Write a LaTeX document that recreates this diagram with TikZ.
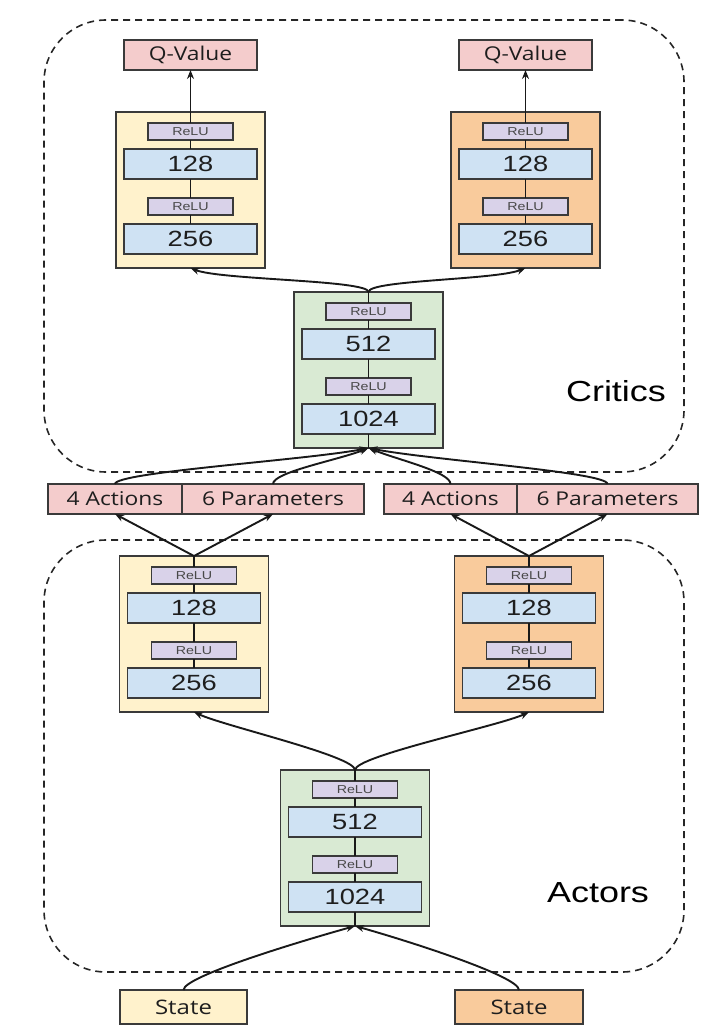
\documentclass[tikz,border=0pt]{standalone}
\usepackage{fontspec}
\setmainfont{Liberation Sans}[FakeStretch=1.24]
\newfontfamily\boxfont{Open Sans}[FakeStretch=1.2]
\usepackage{tikz}
\usetikzlibrary{positioning, arrows.meta}

\definecolor{pinkc}{HTML}{F4CCCC}
\definecolor{yellowc}{HTML}{FFF2CC}
\definecolor{orangec}{HTML}{F9CB9C}
\definecolor{greenc}{HTML}{D9EAD3}
\definecolor{bluec}{HTML}{CFE2F3}
\definecolor{purplec}{HTML}{D9D2E9}
\definecolor{edgec}{HTML}{3A3A3A}
\definecolor{textc}{HTML}{1E1E1E}
\definecolor{reluc}{HTML}{484848}

\begin{document}
\begin{tikzpicture}[x=1pt, y=-1pt,
    block/.style={draw=edgec, line width=1.7pt, minimum width=149pt, minimum height=156pt, inner sep=0pt, outer sep=0pt},
    layer/.style={draw=edgec, fill=bluec, line width=1.7pt, minimum width=133pt, minimum height=30pt, inner sep=0pt, outer sep=0pt, text=textc, font=\fontsize{22}{22}\selectfont},
    relu/.style={draw=edgec, fill=purplec, line width=1.5pt, minimum width=85pt, minimum height=17pt, inner sep=0pt, outer sep=0pt, text=reluc, font=\fontsize{11.5}{11.5}\selectfont},
    io/.style={draw=edgec, line width=1.7pt, minimum height=30pt, inner sep=0pt, outer sep=0pt, text=textc, font=\boxfont\fontsize{19}{19}\selectfont},
    frame/.style={draw=black!85, line width=1.6pt, dash pattern=on 7pt off 5pt, rounded corners=62pt, inner sep=0pt},
    group/.style={text=black, font=\fontsize{29}{29}\selectfont},
    link/.style={line width=1.9pt, draw=black!90},
    >={Stealth[length=9pt,width=7pt]}]

\useasboundingbox (0,0) rectangle (715,1025);

% Rahmen
\node[frame, minimum width=640pt, minimum height=452pt] (critics) at (364,246) {};
\node[frame, minimum width=640pt, minimum height=432pt] (actors) at (364,756) {};
\node[group] (critlabel) at (616,391) {Critics};
\node[group] (actlabel) at (598,893) {Actors};

% Q-Werte
\node[io, fill=pinkc, minimum width=133pt] (q1) at (190.5,55) {Q-Value};
\node[io, fill=pinkc, minimum width=133pt] (q2) at (525.5,55) {Q-Value};

% Kritiker, linker Kopf
\node[block, fill=yellowc] (c1) at (190.5,190) {};
\node[relu, below=11pt of c1.north] (c1-r1) {ReLU};
\node[layer, below=9pt of c1-r1] (c1-l1) {128};
\node[relu, below=19pt of c1-l1] (c1-r2) {ReLU};
\node[layer, below=9pt of c1-r2] (c1-l2) {256};

% Kritiker, rechter Kopf
\node[block, fill=orangec] (c2) at (525.5,190) {};
\node[relu, below=11pt of c2.north] (c2-r1) {ReLU};
\node[layer, below=9pt of c2-r1] (c2-l1) {128};
\node[relu, below=19pt of c2-l1] (c2-r2) {ReLU};
\node[layer, below=9pt of c2-r2] (c2-l2) {256};

% Kritiker, gemeinsamer Teil
\node[block, fill=greenc] (cb) at (368.5,370) {};
\node[relu, below=11pt of cb.north] (cb-r1) {ReLU};
\node[layer, below=9pt of cb-r1] (cb-l1) {512};
\node[relu, below=19pt of cb-l1] (cb-r2) {ReLU};
\node[layer, below=9pt of cb-r2] (cb-l2) {1024};

% Aktionen
\node[io, fill=pinkc, minimum width=134pt] (act1) at (115,499) {4 Actions};
\node[io, fill=pinkc, minimum width=182pt, right=0pt of act1] (par1) {6 Parameters};
\node[io, fill=pinkc, minimum width=133pt] (act2) at (450.5,499) {4 Actions};
\node[io, fill=pinkc, minimum width=181pt, right=0pt of act2] (par2) {6 Parameters};

% Akteure, linker Kopf
\node[block, fill=yellowc] (a1) at (194,634) {};
\node[relu, below=11pt of a1.north] (a1-r1) {ReLU};
\node[layer, below=9pt of a1-r1] (a1-l1) {128};
\node[relu, below=19pt of a1-l1] (a1-r2) {ReLU};
\node[layer, below=9pt of a1-r2] (a1-l2) {256};

% Akteure, rechter Kopf
\node[block, fill=orangec] (a2) at (529,634) {};
\node[relu, below=11pt of a2.north] (a2-r1) {ReLU};
\node[layer, below=9pt of a2-r1] (a2-l1) {128};
\node[relu, below=19pt of a2-l1] (a2-r2) {ReLU};
\node[layer, below=9pt of a2-r2] (a2-l2) {256};

% Akteure, gemeinsamer Teil
\node[block, fill=greenc] (ab) at (355,848) {};
\node[relu, below=11pt of ab.north] (ab-r1) {ReLU};
\node[layer, below=9pt of ab-r1] (ab-l1) {512};
\node[relu, below=19pt of ab-l1] (ab-r2) {ReLU};
\node[layer, below=9pt of ab-r2] (ab-l2) {1024};

% Zustand
\node[io, fill=yellowc, minimum width=127pt, minimum height=34pt, font=\boxfont\fontsize{20}{20}\selectfont] (s1) at (183.5,1007) {State};
\node[io, fill=orangec, minimum width=128pt, minimum height=34pt, font=\boxfont\fontsize{20}{20}\selectfont] (s2) at (519,1007) {State};

% Verbindungen in den Blöcken
\draw[link] (c1-r1) -- (c1-l1) -- (c1-r2) -- (c1-l2);
\draw[link] (c2-r1) -- (c2-l1) -- (c2-r2) -- (c2-l2);
\draw[link] (cb.north) -- (cb-r1) -- (cb-l1) -- (cb-r2) -- (cb-l2) -- (cb.south);
\draw[link] (a1.north) -- (a1-r1) -- (a1-l1) -- (a1-r2) -- (a1-l2);
\draw[link] (a2.north) -- (a2-r1) -- (a2-l1) -- (a2-r2) -- (a2-l2);
\draw[link] (ab.north) -- (ab-r1) -- (ab-l1) -- (ab-r2) -- (ab-l2) -- (ab.south);

% Pfeile
\draw[link,->] (c1-r1) -- (q1);
\draw[link,->] (c2-r1) -- (q2);
\draw[link,->] (cb.north) .. controls +(0,-12) and +(30,12) .. (c1.south);
\draw[link,->] (cb.north) .. controls +(0,-12) and +(-30,12) .. (c2.south);
\draw[link,->] (act1.north) .. controls +(0,-12) and +(-60,12) .. (cb.south);
\draw[link,->] (par1.north) .. controls +(0,-12) and +(-30,12) .. (cb.south);
\draw[link,->] (act2.north) .. controls +(0,-12) and +(30,12) .. (cb.south);
\draw[link,->] (par2.north) .. controls +(0,-12) and +(60,12) .. (cb.south);
\draw[link,->] (a1.north) -- (act1.south);
\draw[link,->] (a1.north) -- (par1.south);
\draw[link,->] (a2.north) -- (act2.south);
\draw[link,->] (a2.north) -- (par2.south);
\draw[link,->] (ab.north) .. controls +(0,-14) and +(30,14) .. (a1.south);
\draw[link,->] (ab.north) .. controls +(0,-14) and +(-30,14) .. (a2.south);
\draw[link,->] (s1.north) .. controls +(0,-14) and +(-50,14) .. (ab.south);
\draw[link,->] (s2.north) .. controls +(0,-14) and +(50,14) .. (ab.south);

\end{tikzpicture}
\end{document}
